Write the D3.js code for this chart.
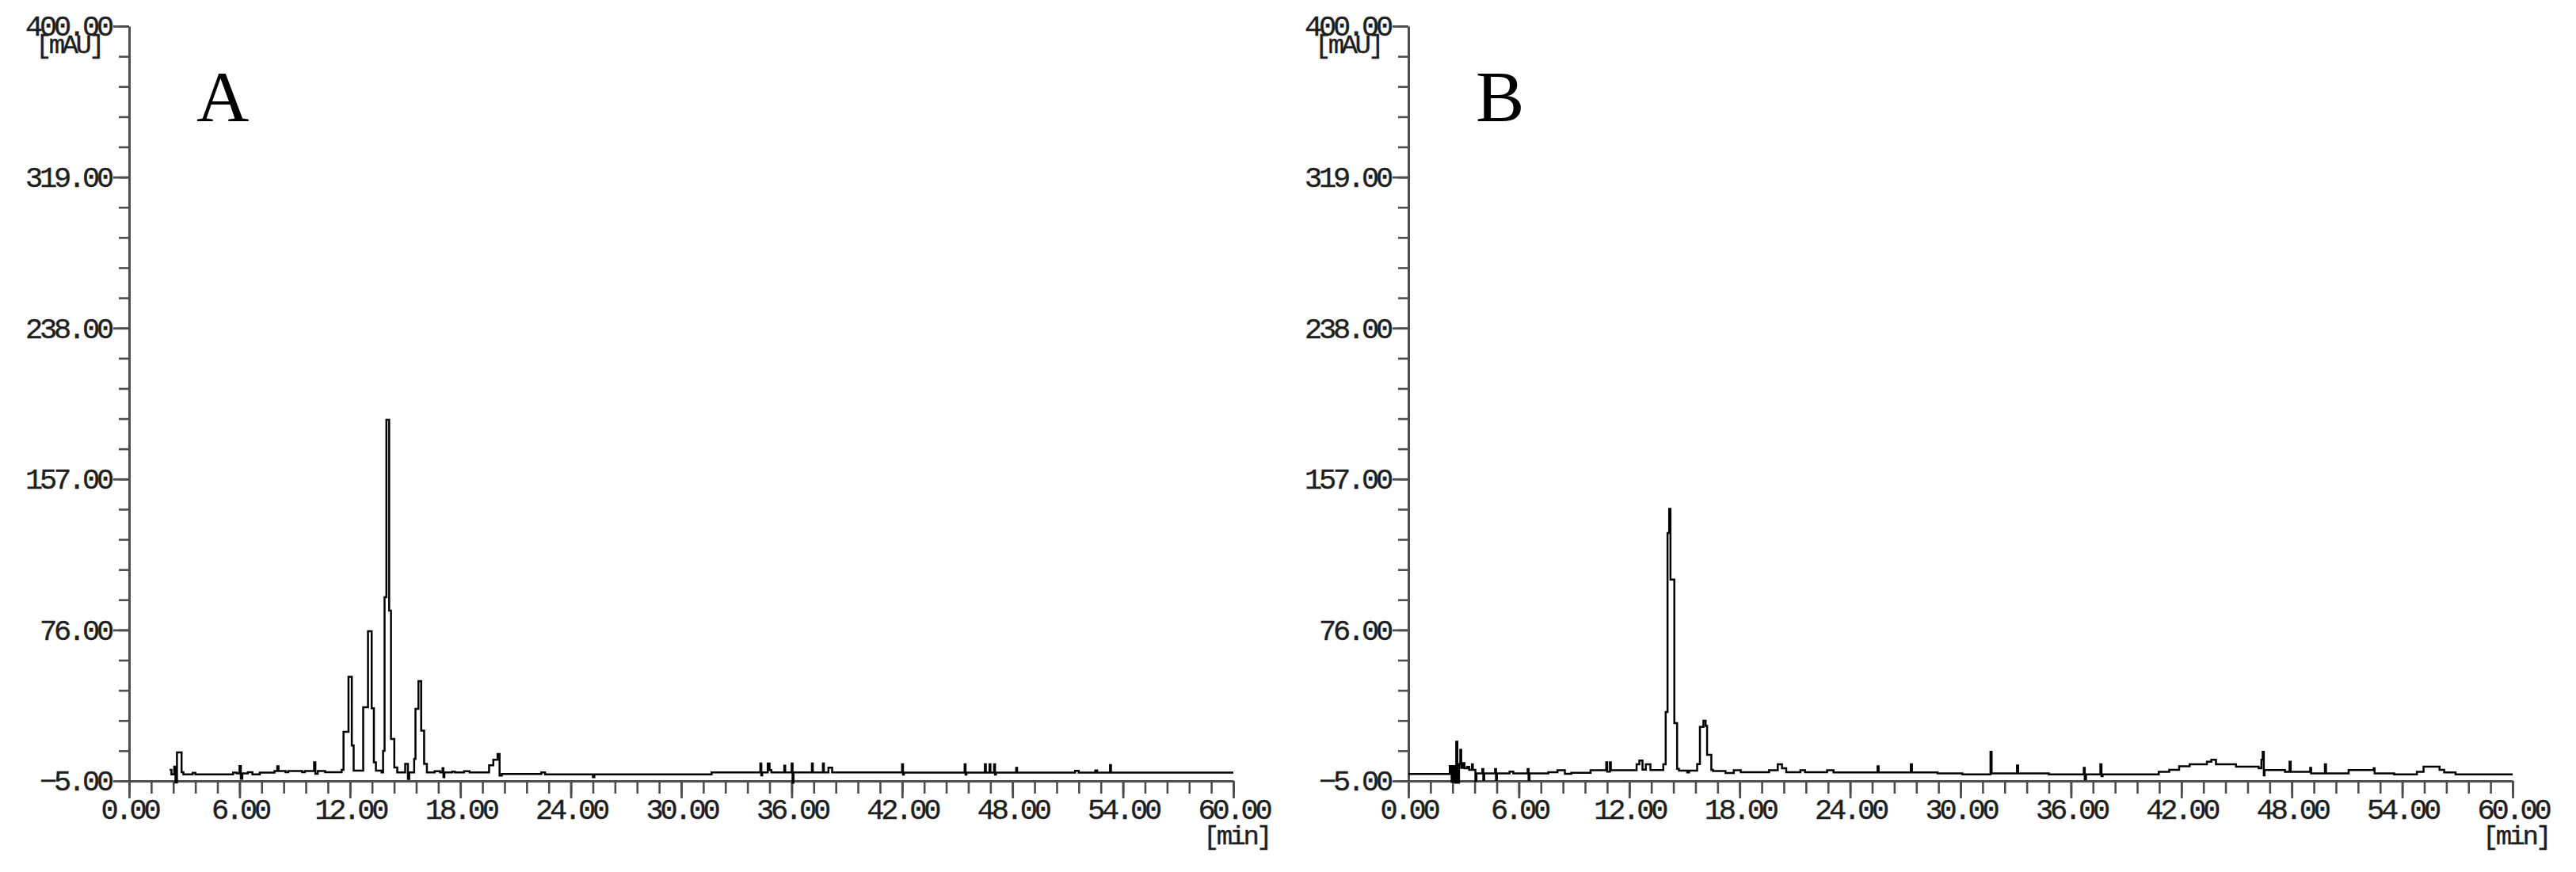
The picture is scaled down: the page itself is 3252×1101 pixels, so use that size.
<!DOCTYPE html>
<html>
<head>
<meta charset="utf-8">
<script src="https://cdn.jsdelivr.net/npm/d3@7"></script>
<style>
  body { margin: 0; background: #fff; }
</style>
</head>
<body>
<svg id="chart"></svg>
<script>
// tick values of the instrument printout
var yMajor = [-5, 76, 157, 238, 319, 400];
var yMinor = d3.range(0, 26).map(function(k) { return -5 + k * 16.2; });
var xMajor = [0, 6, 12, 18, 24, 30, 36, 42, 48, 54, 60];
var xMinor = d3.range(0, 51).map(function(k) { return k * 1.2; });
var panelNames = ["A", "B"];

// chromatogram A: [time min, signal mAU], held until next point
var chromA = [
  [2.20, 0.9], [2.30, -1.5], [2.45, 2.6], [2.52, -5.9], [2.60, 10.3], [2.85, -0.3],
  [2.95, -1.5], [3.45, -0.6], [3.60, -1.5], [5.65, -0.5], [5.85, -1.0], [6.00, 3.0],
  [6.07, -3.8], [6.15, -1.0], [6.45, -0.3], [6.70, -1.5], [7.10, -0.5], [7.90, 0.3],
  [8.05, 2.9], [8.12, 0.3], [8.50, -0.3], [8.65, 0.3], [9.40, -0.3], [9.55, 0.3],
  [10.05, 5.0], [10.12, -1.2], [10.25, 0.3], [10.65, -0.3], [11.55, 1.0], [11.65, 21.3],
  [11.92, 50.9], [12.10, 14.0], [12.20, 0.5], [12.72, 34.5], [12.98, 75.3], [13.18, 34.0],
  [13.30, 5.0], [13.41, 0.5], [13.72, -0.4], [13.80, 11.2], [13.88, 93.6], [13.98, 188.8],
  [14.13, 86.4], [14.23, 17.5], [14.41, 2.2], [14.57, -0.4], [15.00, 4.1], [15.15, -3.9],
  [15.22, -0.4], [15.49, 6.8], [15.56, 33.7], [15.72, 48.5], [15.87, 22.0], [16.03, 4.1],
  [16.18, -0.4], [16.60, 0.2], [16.90, -0.4], [17.03, 1.8], [17.08, -3.0], [17.13, -0.4],
  [17.55, 0.0], [17.70, -0.4], [18.20, 0.2], [18.50, -0.4], [19.56, 3.4], [19.79, 6.4],
  [20.02, 9.4], [20.13, -2.1], [20.25, -1.3], [22.40, -0.4], [22.60, -1.5], [25.20, -3.0],
  [25.28, -1.5], [31.65, -0.4], [34.30, 4.3], [34.35, -2.0], [34.40, -0.4], [34.70, 4.3],
  [34.80, 0.8], [34.90, -0.4], [35.60, 3.2], [35.65, -0.4], [36.00, 4.3], [36.05, -6.0],
  [36.10, -0.4], [37.10, 4.3], [37.15, -0.4], [37.70, 4.3], [37.75, -0.4], [38.00, 2.1],
  [38.20, -0.4], [42.00, 3.9], [42.05, -1.6], [42.10, -0.5], [45.40, 3.9], [45.45, -1.6],
  [45.50, -0.5], [46.50, 3.9], [46.55, -0.5], [46.75, 3.9], [46.80, -0.5], [47.00, 3.9],
  [47.05, -1.6], [47.10, -0.5], [48.20, 2.0], [48.25, -0.5], [51.40, 0.4], [51.60, -0.5],
  [52.50, 0.6], [52.60, -0.5], [53.30, 3.5], [53.35, -0.5], [60.00, -0.5]
];

// chromatogram B
var chromB = [
  [0.00, -1.3], [2.25, 3.0], [2.35, -5.5], [2.45, 3.0], [2.55, -6.0], [2.60, 16.0],
  [2.66, -6.0], [2.75, 4.0], [2.82, 11.7], [2.87, 2.0], [2.95, 4.6], [3.05, 1.8],
  [3.20, 2.5], [3.30, 1.0], [3.45, 3.9], [3.50, 1.0], [3.64, -5.0], [3.70, -1.0],
  [4.02, 1.4], [4.07, -4.4], [4.12, -1.0], [4.71, 1.4], [4.76, -4.4], [4.81, -1.0],
  [5.50, 0.0], [5.70, -1.0], [6.48, 1.4], [6.53, -4.4], [6.58, -1.0], [7.60, -0.3],
  [8.10, 0.7], [8.50, -1.2], [8.85, -0.6], [9.90, 0.7], [10.75, 5.0], [10.80, 0.0],
  [10.95, 5.0], [11.00, 0.7], [12.40, 3.9], [12.55, 5.9], [12.72, 1.1], [12.90, 3.9],
  [13.15, 0.8], [13.85, 3.9], [13.98, 32.0], [14.08, 128.0], [14.17, 141.0], [14.24, 103.0],
  [14.45, 26.0], [14.60, 1.5], [14.70, 0.5], [15.15, -0.4], [15.25, 0.5], [15.69, 4.0],
  [15.84, 24.0], [16.03, 27.3], [16.15, 24.5], [16.23, 9.0], [16.46, 1.0], [16.55, 0.3],
  [17.23, -0.7], [17.68, 0.7], [18.06, -0.3], [19.60, 0.7], [20.07, 3.9], [20.30, 1.8],
  [20.53, -0.3], [21.30, 0.7], [21.55, -0.3], [22.75, 0.7], [23.10, -0.4], [25.49, 2.9],
  [25.55, -0.4], [27.30, 3.9], [27.36, -0.4], [28.75, -1.0], [30.10, -1.5], [31.63, 10.6],
  [31.69, -1.0], [33.07, 3.3], [33.13, -1.0], [34.80, -1.5], [36.70, 2.0], [36.75, -4.2],
  [36.82, -1.5], [37.60, 3.9], [37.66, -2.4], [37.72, -1.5], [40.77, -0.1], [41.34, 1.0],
  [41.88, 2.9], [42.45, 3.9], [43.39, 5.3], [43.63, 6.4], [43.88, 3.9], [44.97, 2.7],
  [46.20, 1.8], [46.35, 6.4], [46.42, 10.6], [46.48, -2.0], [46.52, 0.8], [47.63, -0.1],
  [47.88, 5.3], [47.94, -0.1], [49.00, 2.0], [49.05, -1.0], [49.80, 3.9], [49.86, -1.0],
  [51.09, 0.8], [52.45, 1.8], [52.50, -1.0], [53.56, -1.5], [54.80, -0.1], [55.16, 2.7],
  [56.03, 1.0], [56.28, -0.4], [56.90, -1.5], [60.00, -1.5]
];

var width = 3252, height = 1101;
var axisColor = "#4d4d4d", textColor = "#1e1e1e";
var monoFont = "'Liberation Mono', 'DejaVu Sans Mono', monospace";

var svg = d3.select("#chart")
    .attr("width", width)
    .attr("height", height)
    .style("background", "#fff");

function styleAxis(sel, strokeW) {
  sel.selectAll("line").attr("stroke", axisColor).attr("stroke-width", strokeW);
  sel.selectAll("path.domain").attr("stroke", axisColor).attr("stroke-width", 3);
  sel.attr("font-family", monoFont).attr("font-size", 37)
    .selectAll("text")
    .attr("fill", textColor)
    .attr("stroke", textColor).attr("stroke-width", 0.4)
    .attr("letter-spacing", "-4.2px");
}

function drawPanel(left, data, name) {
  var x = d3.scaleLinear().domain([0, 60]).range([left, left + 1394]);
  var y = d3.scaleLinear().domain([-5, 400]).range([986, 33]);
  var g = svg.append("g");

  // minor ticks first
  g.append("g")
    .attr("transform", "translate(" + left + ",0)")
    .call(d3.axisLeft(y).tickValues(yMinor).tickSize(13).tickFormat(""))
    .call(function(a) { a.select(".domain").remove(); })
    .call(styleAxis, 2.6);

  g.append("g")
    .attr("transform", "translate(0,986)")
    .call(d3.axisBottom(x).tickValues(xMinor).tickSize(16).tickFormat(""))
    .call(function(a) { a.select(".domain").remove(); })
    .call(styleAxis, 2.6);

  // major ticks with labels
  g.append("g")
    .attr("transform", "translate(" + left + ",0)")
    .call(d3.axisLeft(y).tickValues(yMajor).tickSize(20).tickSizeOuter(0)
      .tickPadding(3).tickFormat(d3.format(".2f")))
    .call(styleAxis, 2.8);

  g.append("g")
    .attr("transform", "translate(0,986)")
    .call(d3.axisBottom(x).tickValues(xMajor).tickSize(22).tickSizeOuter(0)
      .tickPadding(0).tickFormat(d3.format(".2f")))
    .call(styleAxis, 2.8);

  // unit labels
  g.append("text")
    .attr("x", left - 76).attr("y", 67)
    .attr("text-anchor", "middle")
    .attr("font-family", monoFont).attr("font-size", 34)
    .attr("letter-spacing", "-3.6px")
    .attr("fill", textColor)
    .attr("stroke", textColor).attr("stroke-width", 0.4)
    .text("[mAU]");

  g.append("text")
    .attr("x", x(60) + 4).attr("y", 1066)
    .attr("text-anchor", "middle")
    .attr("font-family", monoFont).attr("font-size", 34)
    .attr("letter-spacing", "-3.6px")
    .attr("fill", textColor)
    .attr("stroke", textColor).attr("stroke-width", 0.4)
    .text("[min]");

  // panel letter
  g.append("text")
    .attr("x", left + 85).attr("y", 153)
    .attr("font-family", "'Liberation Serif', 'Times New Roman', serif")
    .attr("font-size", 92)
    .attr("fill", "#000")
    .text(name);

  var line = d3.line()
    .x(function(d) { return x(d[0]); })
    .y(function(d) { return y(d[1]); })
    .curve(d3.curveStepAfter);

  g.append("path")
    .datum(data)
    .attr("d", line)
    .attr("fill", "none")
    .attr("stroke", "#000")
    .attr("stroke-width", 2.5)
    .attr("stroke-linejoin", "miter");
}

drawPanel(163, chromA, panelNames[0]);
drawPanel(1778, chromB, panelNames[1]);
</script>
</body>
</html>
